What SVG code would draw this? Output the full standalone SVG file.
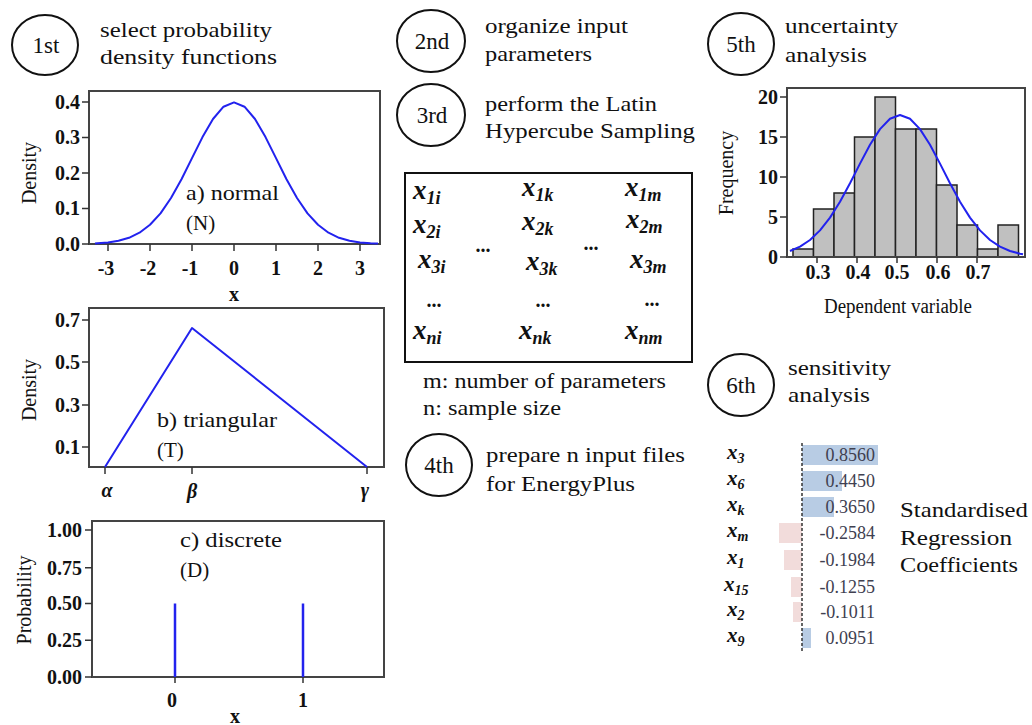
<svg xmlns="http://www.w3.org/2000/svg" width="1032" height="725" viewBox="0 0 1032 725">
<style>
.t{font-family:"Liberation Serif","Times New Roman",serif;font-size:22px;fill:#111}
.step{font-family:"Liberation Serif","Times New Roman",serif;font-size:23px;fill:#111;text-anchor:middle}
.ring{fill:none;stroke:#111;stroke-width:2}
.box{fill:none;stroke:#444;stroke-width:2}
.tick{stroke:#333;stroke-width:1.5}
.tr{font-family:"Liberation Serif","Times New Roman",serif;font-size:20px;font-weight:bold;fill:#111;text-anchor:end}
.tc{font-family:"Liberation Serif","Times New Roman",serif;font-size:20px;font-weight:bold;fill:#111;text-anchor:middle}
.ax{font-family:"Liberation Serif","Times New Roman",serif;font-size:20px;fill:#111;text-anchor:middle}
.lab{font-family:"Liberation Serif","Times New Roman",serif;font-size:21px;fill:#111}
.curve{fill:none;stroke:#2222ee;stroke-width:2;stroke-linejoin:round}
.mx{font-family:"Liberation Serif","Times New Roman",serif;font-style:italic;font-weight:bold;font-size:27px;fill:#111}
.sub{font-size:18px}
.sx{font-family:"Liberation Serif","Times New Roman",serif;font-style:italic;font-weight:bold;font-size:21px;fill:#111}
.ss{font-size:14px}
.dots{font-family:"Liberation Serif",serif;font-size:20px;font-weight:bold;fill:#111;text-anchor:middle}
.val{font-family:"Liberation Serif","Times New Roman",serif;font-size:18px;fill:#404050;text-anchor:end}
.bar{fill:#c0c0c0;stroke:#222;stroke-width:1.5}
.pos{fill:#b8cce4}
.neg{fill:#f2dcdb}
</style>

<g id="connectors"></g>

<!-- Step 1 -->
<g id="step1">
<ellipse class="ring" cx="45" cy="45" rx="33" ry="30"/>
<text class="step" x="46" y="53">1st</text>
<text class="t" x="100" y="37" textLength="172" lengthAdjust="spacingAndGlyphs">select probability</text>
<text class="t" x="100" y="64" textLength="177" lengthAdjust="spacingAndGlyphs">density functions</text>
</g>

<!-- Chart a) normal -->
<g id="chart-normal">
<rect class="box" x="89" y="91" width="291" height="153"/>
<g class="tick">
<line x1="82" y1="102" x2="89" y2="102"/><line x1="82" y1="137.5" x2="89" y2="137.5"/><line x1="82" y1="173" x2="89" y2="173"/><line x1="82" y1="208.5" x2="89" y2="208.5"/><line x1="82" y1="244" x2="89" y2="244"/>
<line x1="108" y1="244" x2="108" y2="251"/><line x1="150" y1="244" x2="150" y2="251"/><line x1="192" y1="244" x2="192" y2="251"/><line x1="234" y1="244" x2="234" y2="251"/><line x1="276" y1="244" x2="276" y2="251"/><line x1="318" y1="244" x2="318" y2="251"/><line x1="360" y1="244" x2="360" y2="251"/>
</g>
<text class="tr" x="80" y="109">0.4</text>
<text class="tr" x="80" y="144">0.3</text>
<text class="tr" x="80" y="180">0.2</text>
<text class="tr" x="80" y="215">0.1</text>
<text class="tr" x="80" y="251">0.0</text>
<text class="tc" x="106" y="275">-3</text>
<text class="tc" x="148" y="275">-2</text>
<text class="tc" x="190" y="275">-1</text>
<text class="tc" x="234" y="275">0</text>
<text class="tc" x="276" y="275">1</text>
<text class="tc" x="318" y="275">2</text>
<text class="tc" x="360" y="275">3</text>
<text class="tc" x="234" y="301">x</text>
<text class="ax" transform="translate(36,173) rotate(-90)">Density</text>
<polyline class="curve" points="95,243.6 97.5,243.3 108,242.4 118.5,240.8 129,237.8 139.5,232.7 150,224.8 160.5,213.4 171,198 181.5,179.2 192,158.1 202.5,137.1 213,119 223.5,106.7 234,102.4 244.5,106.7 255,119 265.5,137.1 276,158.1 286.5,179.2 297,198 307.5,213.4 318,224.8 328.5,232.7 339,237.8 349.5,240.8 360,242.4 370.5,243.3 378,243.6"/>
<text class="lab" x="186" y="200" textLength="93" lengthAdjust="spacingAndGlyphs">a) normal</text>
<text class="lab" x="186" y="230">(N)</text>
</g>

<!-- Chart b) triangular -->
<g id="chart-triangular">
<rect class="box" x="89" y="308" width="295" height="159"/>
<g class="tick">
<line x1="82" y1="320" x2="89" y2="320"/><line x1="82" y1="362" x2="89" y2="362"/><line x1="82" y1="405" x2="89" y2="405"/><line x1="82" y1="447" x2="89" y2="447"/>
<line x1="105" y1="467" x2="105" y2="474"/><line x1="192" y1="467" x2="192" y2="474"/><line x1="367" y1="467" x2="367" y2="474"/>
</g>
<text class="tr" x="80" y="327">0.7</text>
<text class="tr" x="80" y="369">0.5</text>
<text class="tr" x="80" y="412">0.3</text>
<text class="tr" x="80" y="454">0.1</text>
<text class="ax" transform="translate(36,390) rotate(-90)">Density</text>
<polyline class="curve" points="105,467 192,328 367,467"/>
<text class="lab" x="157" y="427" textLength="120" lengthAdjust="spacingAndGlyphs">b) triangular</text>
<text class="lab" x="157" y="457">(T)</text>
<text class="tc" x="107" y="497" font-style="italic">α</text>
<text class="tc" x="192" y="498" font-style="italic">β</text>
<text class="tc" x="365" y="497" font-style="italic">γ</text>
</g>

<!-- Chart c) discrete -->
<g id="chart-discrete">
<rect class="box" x="92" y="521" width="292" height="156"/>
<g class="tick">
<line x1="85" y1="530" x2="92" y2="530"/><line x1="85" y1="567.75" x2="92" y2="567.75"/><line x1="85" y1="603.5" x2="92" y2="603.5"/><line x1="85" y1="640.25" x2="92" y2="640.25"/><line x1="85" y1="677" x2="92" y2="677"/>
<line x1="175" y1="677" x2="175" y2="683"/><line x1="303" y1="677" x2="303" y2="683"/>
</g>
<text class="tr" x="82" y="537">1.00</text>
<text class="tr" x="82" y="575">0.75</text>
<text class="tr" x="82" y="610">0.50</text>
<text class="tr" x="82" y="647">0.25</text>
<text class="tr" x="82" y="684">0.00</text>
<text class="ax" transform="translate(31,600) rotate(-90)">Probability</text>
<line x1="175" y1="603.5" x2="175" y2="677" stroke="#2222ee" stroke-width="2.5"/>
<line x1="303" y1="603.5" x2="303" y2="677" stroke="#2222ee" stroke-width="2.5"/>
<text class="tc" x="172" y="707">0</text>
<text class="tc" x="303" y="707">1</text>
<text class="tc" x="235" y="723">x</text>
<text class="lab" x="180" y="547" textLength="102" lengthAdjust="spacingAndGlyphs">c) discrete</text>
<text class="lab" x="180" y="577">(D)</text>
</g>

<!-- Step 2 -->
<g id="step2">
<ellipse class="ring" cx="431" cy="41" rx="34" ry="31"/>
<text class="step" x="432" y="49">2nd</text>
<text class="t" x="485" y="33" textLength="143" lengthAdjust="spacingAndGlyphs">organize input</text>
<text class="t" x="485" y="61" textLength="107" lengthAdjust="spacingAndGlyphs">parameters</text>
</g>

<!-- Step 3 -->
<g id="step3">
<ellipse class="ring" cx="431" cy="115" rx="34" ry="31"/>
<text class="step" x="432" y="123">3rd</text>
<text class="t" x="485" y="111" textLength="172" lengthAdjust="spacingAndGlyphs">perform the Latin</text>
<text class="t" x="485" y="138" textLength="210" lengthAdjust="spacingAndGlyphs">Hypercube Sampling</text>
</g>

<!-- LHS matrix -->
<g id="matrix">
<rect x="405" y="173" width="287" height="189" fill="none" stroke="#111" stroke-width="2"/>
<text class="mx" x="413" y="199">x<tspan class="sub" dy="5">1i</tspan></text>
<text class="mx" x="522" y="196">x<tspan class="sub" dy="5">1k</tspan></text>
<text class="mx" x="625" y="196">x<tspan class="sub" dy="5">1m</tspan></text>
<text class="mx" x="413" y="233">x<tspan class="sub" dy="5">2i</tspan></text>
<text class="mx" x="522" y="230">x<tspan class="sub" dy="5">2k</tspan></text>
<text class="mx" x="626" y="228">x<tspan class="sub" dy="5">2m</tspan></text>
<text class="mx" x="418" y="268">x<tspan class="sub" dy="5">3i</tspan></text>
<text class="mx" x="526" y="270">x<tspan class="sub" dy="5">3k</tspan></text>
<text class="mx" x="630" y="268">x<tspan class="sub" dy="5">3m</tspan></text>
<text class="mx" x="413" y="339">x<tspan class="sub" dy="5">ni</tspan></text>
<text class="mx" x="519" y="339">x<tspan class="sub" dy="5">nk</tspan></text>
<text class="mx" x="625" y="339">x<tspan class="sub" dy="5">nm</tspan></text>
<text class="dots" x="434" y="307">...</text>
<text class="dots" x="543" y="307">...</text>
<text class="dots" x="652" y="306">...</text>
<text class="dots" x="483" y="252">...</text>
<text class="dots" x="591" y="250">...</text>
<text class="t" x="423" y="388" textLength="243" lengthAdjust="spacingAndGlyphs">m: number of parameters</text>
<text class="t" x="423" y="415" textLength="138" lengthAdjust="spacingAndGlyphs">n: sample size</text>
</g>

<!-- Step 4 -->
<g id="step4">
<ellipse class="ring" cx="439" cy="465" rx="33" ry="31"/>
<text class="step" x="439" y="473">4th</text>
<text class="t" x="486" y="462" textLength="199" lengthAdjust="spacingAndGlyphs">prepare n input files</text>
<text class="t" x="486" y="491" textLength="149" lengthAdjust="spacingAndGlyphs">for EnergyPlus</text>
</g>

<!-- Step 5 -->
<g id="step5">
<ellipse class="ring" cx="741" cy="44" rx="33" ry="31"/>
<text class="step" x="741" y="52">5th</text>
<text class="t" x="785" y="33" textLength="113" lengthAdjust="spacingAndGlyphs">uncertainty</text>
<text class="t" x="785" y="62" textLength="82" lengthAdjust="spacingAndGlyphs">analysis</text>
</g>

<!-- Histogram -->
<g id="histogram">
<rect x="793" y="249" width="20.5" height="8" class="bar"/>
<rect x="813.5" y="209" width="20.5" height="48" class="bar"/>
<rect x="834" y="193" width="20.5" height="64" class="bar"/>
<rect x="854.5" y="137" width="20.5" height="120" class="bar"/>
<rect x="875" y="97" width="20.5" height="160" class="bar"/>
<rect x="895.5" y="129" width="20.5" height="128" class="bar"/>
<rect x="916" y="129" width="20.5" height="128" class="bar"/>
<rect x="936.5" y="185" width="20.5" height="72" class="bar"/>
<rect x="957" y="225" width="20.5" height="32" class="bar"/>
<rect x="977.5" y="249" width="20.5" height="8" class="bar"/>
<rect x="998" y="225" width="20.5" height="32" class="bar"/>
<rect class="box" x="787" y="88" width="238" height="169"/>
<g class="tick">
<line x1="780" y1="97" x2="787" y2="97"/><line x1="780" y1="137" x2="787" y2="137"/><line x1="780" y1="177" x2="787" y2="177"/><line x1="780" y1="217" x2="787" y2="217"/><line x1="780" y1="257" x2="787" y2="257"/>
<line x1="817" y1="257" x2="817" y2="263"/><line x1="857" y1="257" x2="857" y2="263"/><line x1="897" y1="257" x2="897" y2="263"/><line x1="937" y1="257" x2="937" y2="263"/><line x1="977" y1="257" x2="977" y2="263"/>
</g>
<polyline class="curve" stroke-width="1.5" points="790,251 800,246.6 810,240 820,230.4 830,217.6 840,201.7 850,183.2 860,163.6 870,144.8 880,129.1 890,118.7 900,115 910,118.7 920,129.1 930,144.8 940,163.6 950,183.2 960,201.7 970,217.6 980,230.4 990,240 1000,246.6 1010,251 1020,253.7 1023,254.3"/>
<text class="tr" x="778" y="104">20</text>
<text class="tr" x="778" y="144">15</text>
<text class="tr" x="778" y="184">10</text>
<text class="tr" x="778" y="224">5</text>
<text class="tr" x="778" y="264">0</text>
<text class="tc" x="818" y="279">0.3</text>
<text class="tc" x="858" y="279">0.4</text>
<text class="tc" x="897" y="279">0.5</text>
<text class="tc" x="938" y="279">0.6</text>
<text class="tc" x="978" y="279">0.7</text>
<text class="ax" x="898" y="313" font-size="18" textLength="148" lengthAdjust="spacingAndGlyphs">Dependent variable</text>
<text class="ax" font-size="18" transform="translate(733,173) rotate(-90)">Frequency</text>
</g>

<!-- Step 6 -->
<g id="step6">
<ellipse class="ring" cx="741" cy="385" rx="33" ry="31"/>
<text class="step" x="741" y="393">6th</text>
<text class="t" x="788" y="375" textLength="103" lengthAdjust="spacingAndGlyphs">sensitivity</text>
<text class="t" x="788" y="402" textLength="82" lengthAdjust="spacingAndGlyphs">analysis</text>
</g>

<!-- SRC chart -->
<g id="src-chart">
<rect class="pos" x="802" y="445" width="76" height="20"/>
<rect class="pos" x="802" y="471" width="40" height="20"/>
<rect class="pos" x="802" y="497" width="32" height="20"/>
<rect class="neg" x="779" y="523" width="23" height="20"/>
<rect class="neg" x="784" y="550" width="18" height="20"/>
<rect class="neg" x="791" y="577" width="11" height="20"/>
<rect class="neg" x="793" y="602" width="9" height="20"/>
<rect class="pos" x="802" y="628" width="9" height="20"/>
<line x1="802" y1="443" x2="802" y2="652" stroke="#333" stroke-width="1.5" stroke-dasharray="3,2"/>
<text class="val" x="875" y="461">0.8560</text>
<text class="val" x="875" y="487">0.4450</text>
<text class="val" x="875" y="513">0.3650</text>
<text class="val" x="875" y="539">-0.2584</text>
<text class="val" x="875" y="566">-0.1984</text>
<text class="val" x="875" y="593">-0.1255</text>
<text class="val" x="875" y="618">-0.1011</text>
<text class="val" x="875" y="644">0.0951</text>
<text class="sx" x="727" y="459">x<tspan class="ss" dy="4">3</tspan></text>
<text class="sx" x="727" y="485">x<tspan class="ss" dy="4">6</tspan></text>
<text class="sx" x="727" y="511">x<tspan class="ss" dy="4">k</tspan></text>
<text class="sx" x="727" y="537">x<tspan class="ss" dy="4">m</tspan></text>
<text class="sx" x="727" y="564">x<tspan class="ss" dy="4">1</tspan></text>
<text class="sx" x="724" y="591">x<tspan class="ss" dy="4">15</tspan></text>
<text class="sx" x="727" y="616">x<tspan class="ss" dy="4">2</tspan></text>
<text class="sx" x="727" y="642">x<tspan class="ss" dy="4">9</tspan></text>
<text class="t" x="900" y="517" textLength="128" lengthAdjust="spacingAndGlyphs">Standardised</text>
<text class="t" x="900" y="545" textLength="112" lengthAdjust="spacingAndGlyphs">Regression</text>
<text class="t" x="900" y="572" textLength="118" lengthAdjust="spacingAndGlyphs">Coefficients</text>
</g>
</svg>
